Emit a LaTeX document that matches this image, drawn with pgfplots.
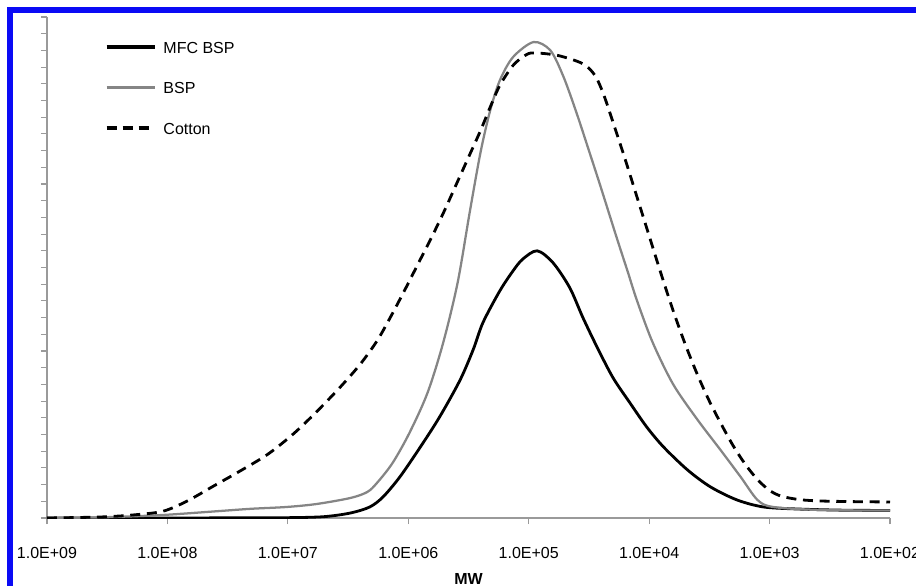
\documentclass[border=0pt]{standalone}
\usepackage{fontspec}
\setmainfont{Liberation Sans}
\usepackage{pgfplots}
\usepackage{pgfplotstable}
\pgfplotsset{compat=1.18}
\definecolor{bspgray}{HTML}{858585}
\definecolor{axisgray}{HTML}{9A9A9A}
\definecolor{frameblue}{HTML}{0A0AF5}

% x = log10(MW), y = signal
\pgfplotstableread{
lmw   y
9.00  0
8.00  0
7.50  0.01
7.00  0.02
6.70  0.08
6.48  0.30
6.32  0.66
6.21  1.26
6.07  2.46
5.90  4.25
5.74  6.05
5.57  8.26
5.46  10.1
5.38  11.7
5.24  13.6
5.13  14.8
5.05  15.5
4.93  16.0
4.80  15.3
4.66  13.8
4.55  12.0
4.43  10.2
4.30  8.4
4.16  6.9
4.02  5.45
3.88  4.25
3.68  2.87
3.49  1.86
3.27  1.08
3.05  0.66
2.77  0.54
2.40  0.47
2.00  0.45
}\mfcbsp

\pgfplotstableread{
lmw   y
9.00  0
8.50  0.05
8.04  0.18
7.60  0.40
7.31  0.55
7.01  0.66
6.76  0.84
6.48  1.20
6.34  1.56
6.26  2.10
6.13  3.30
5.99  5.10
5.84  7.50
5.71  10.5
5.59  14.1
5.49  18.3
5.40  21.9
5.32  24.4
5.24  26.2
5.13  27.6
4.96  28.5
4.82  28.0
4.71  26.4
4.60  24.2
4.50  22.0
4.41  20.0
4.27  16.8
4.18  14.8
4.10  13.0
3.97  10.5
3.80  8.0
3.60  5.9
3.41  4.1
3.24  2.46
3.10  1.08
2.97  0.66
2.58  0.48
2.00  0.45
}\bsp

\pgfplotstableread{
lmw   y
9.00  0
8.56  0.06
8.29  0.18
8.04  0.40
7.84  1.00
7.62  1.90
7.40  2.80
7.17  3.80
6.96  5.00
6.77  6.30
6.57  7.80
6.40  9.20
6.26  10.6
6.15  12.0
6.04  13.5
5.92  15.2
5.80  16.9
5.70  18.4
5.60  20.0
5.50  21.6
5.40  23.2
5.32  24.6
5.24  25.9
5.13  27.1
5.03  27.7
4.96  27.85
4.76  27.7
4.55  27.2
4.45  26.5
4.38  25.4
4.30  23.7
4.20  21.5
4.10  19.2
4.00  16.9
3.90  14.6
3.80  12.4
3.70  10.4
3.60  8.6
3.50  7.0
3.40  5.6
3.30  4.3
3.20  3.2
3.10  2.3
3.00  1.65
2.90  1.30
2.75  1.10
2.58  1.02
2.30  0.98
2.00  0.96
}\cotton

\begin{document}
\begin{tikzpicture}[x=1pt,y=1pt]
\useasboundingbox (-35.25,-51) rectangle (651.75,388.5);
\clip (-35.25,-51) rectangle (651.75,388.5);
% blue frame (left and top edges)
\fill[frameblue] (-30,-51) rectangle (-25.5,383.25);
\fill[frameblue] (-30,378.75) rectangle (651.75,383.25);
\begin{axis}[
    at={(0,0)}, anchor=south west,
    width=632.25pt, height=375.75pt, scale only axis,
    font=\fontsize{12}{14.4}\selectfont,
    xmin=2, xmax=9, ymin=0, ymax=30,
    x dir=reverse,
    axis x line*=bottom, axis y line*=left,
    axis line style={axisgray, line width=0.9pt},
    xtick={2,...,9},
    xticklabels={1.0E+02,1.0E+03,1.0E+04,1.0E+05,1.0E+06,1.0E+07,1.0E+08,1.0E+09},
    ytick={0,...,30}, yticklabels={},
    tick align=outside, major tick length=4.5pt,
    tick style={axisgray, line width=0.8pt},
    xticklabel style={anchor=base, yshift=-25.5pt},
    xlabel={\textbf{MW}},
    xlabel style={at={(axis description cs:0.5,0)}, anchor=base, yshift=-49.5pt},
    legend style={at={(0.0688,0.952)}, anchor=north west, draw=none, fill=none,
        inner sep=0pt, outer sep=0pt, row sep=21.4pt, column sep=5.25pt,
        nodes={inner sep=0pt, outer sep=0pt, text height=9pt, text depth=0pt, anchor=west},
        font=\fontsize{12}{14.4}\selectfont},
    legend cell align=left,
]
\addplot[black, line width=2.1pt, smooth, tension=0.5, forget plot] table[x=lmw, y=y] {\mfcbsp};
\addplot[bspgray, line width=1.7pt, smooth, tension=0.5, forget plot] table[x=lmw, y=y] {\bsp};
\addplot[black, line width=2.1pt, dash pattern=on 7.5pt off 5pt, smooth, tension=0.5, forget plot] table[x=lmw, y=y] {\cotton};
\addlegendimage{legend image code/.code={\draw[black, line width=2.6pt] (0pt,0pt) -- (36pt,0pt);}}
\addlegendentry{MFC BSP}
\addlegendimage{legend image code/.code={\draw[bspgray, line width=2.4pt] (0pt,0pt) -- (36pt,0pt);}}
\addlegendentry{BSP}
\addlegendimage{legend image code/.code={\draw[black, line width=2.6pt, dash pattern=on 7.5pt off 4.5pt] (0pt,0pt) -- (36pt,0pt);}}
\addlegendentry{Cotton}
\end{axis}
\end{tikzpicture}
\end{document}
